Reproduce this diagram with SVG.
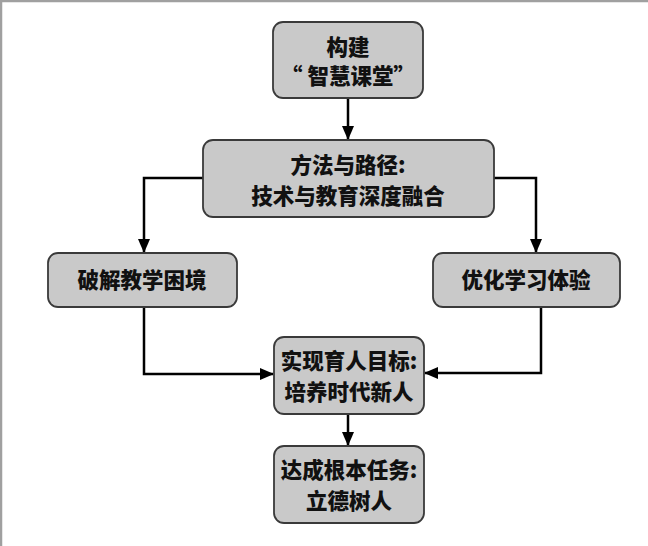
<svg xmlns="http://www.w3.org/2000/svg" width="648" height="546" viewBox="0 0 648 546">
<defs>
<marker id="ah" markerWidth="14" markerHeight="14" refX="13" refY="7" orient="auto" markerUnits="userSpaceOnUse">
<path d="M0,1 L14,7 L0,13 Z" fill="#000"/>
</marker>
<style>
.box{fill:#c9c9c9;stroke:#3a3a3a;stroke-width:1.8}
.t{font-family:"Noto Sans CJK SC","Liberation Sans",sans-serif;font-weight:900;font-size:21.5px;fill:#111;text-anchor:middle}
.c{fill:none;stroke:#000;stroke-width:2.5;marker-end:url(#ah)}
</style>
</defs>
<rect x="0" y="0" width="648" height="546" fill="#fff"/>
<path d="M1,546 L1,1 L648,1" fill="none" stroke="#a0a0a0" stroke-width="2.5"/>
<g id="connectors">
<path class="c" d="M348,98 L348,139"/>
<path class="c" d="M203,178 L144,178 L144,252"/>
<path class="c" d="M494,178 L536,178 L536,252"/>
<path class="c" d="M144,307 L144,374 L273,374"/>
<path class="c" d="M541,307 L541,373 L425,373"/>
<path class="c" d="M348,414 L348,445"/>
</g>
<g id="n1"><rect class="box" x="273" y="22" width="150" height="76" rx="10"/>
<text class="t" x="348" y="55">构建</text><text class="t" x="348" y="84">“ 智慧课堂”</text></g>
<g id="n2"><rect class="box" x="203" y="140" width="291" height="77" rx="10"/>
<text class="t" x="348" y="173">方法与路径:</text><text class="t" x="348" y="204">技术与教育深度融合</text></g>
<g id="n3"><rect class="box" x="48" y="253" width="189" height="54" rx="10"/>
<text class="t" x="142" y="288">破解教学困境</text></g>
<g id="n4"><rect class="box" x="433" y="253" width="187" height="54" rx="10"/>
<text class="t" x="526" y="288">优化学习体验</text></g>
<g id="n5"><rect class="box" x="274" y="337" width="150" height="77" rx="10"/>
<text class="t" x="349" y="369">实现育人目标:</text><text class="t" x="349" y="400">培养时代新人</text></g>
<g id="n6"><rect class="box" x="274" y="446" width="150" height="77" rx="10"/>
<text class="t" x="349" y="478">达成根本任务:</text><text class="t" x="349" y="509">立德树人</text></g>
</svg>
